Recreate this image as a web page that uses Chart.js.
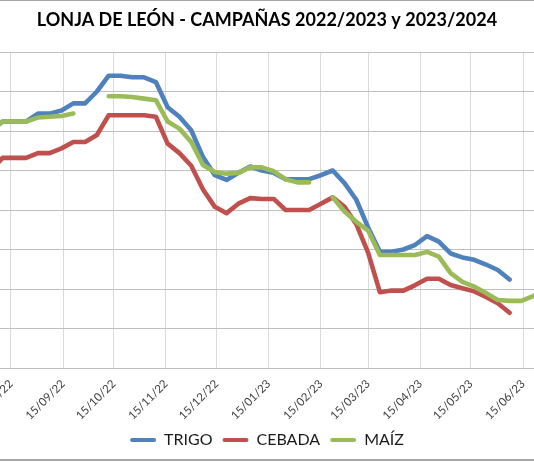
<!DOCTYPE html>
<html><head><meta charset="utf-8">
<script src="https://cdn.jsdelivr.net/npm/chart.js@4.4.0/dist/chart.umd.min.js"></script>
<style>
html,body{margin:0;padding:0;background:#fff;}
#wrap{position:relative;width:534px;height:462px;overflow:hidden;background:#fff;}
#c{position:absolute;left:0;top:0;}
.bt{position:absolute;left:0;width:534px;background:#a6a6a6;}
</style></head><body>
<div id="wrap"><canvas id="c" width="534" height="462"></canvas>
<div class="bt" style="top:0;height:1px"></div>
<div class="bt" style="top:459px;height:2px"></div></div>
<script>
const titleText = 'LONJA DE LEÓN - CAMPAÑAS 2022/2023 y 2023/2024';
const seriesNames = ['TRIGO', 'CEBADA', 'MAÍZ'];
const dates = [
 '2022-08-03','2022-08-10','2022-08-17','2022-08-24','2022-08-31','2022-09-07','2022-09-14','2022-09-21',
 '2022-09-28','2022-10-05','2022-10-12','2022-10-19','2022-10-26','2022-11-02','2022-11-09','2022-11-16',
 '2022-11-23','2022-11-30','2022-12-07','2022-12-14','2022-12-21','2022-12-28','2023-01-04','2023-01-11',
 '2023-01-18','2023-01-25','2023-02-01','2023-02-08','2023-02-15','2023-02-22','2023-03-01','2023-03-08',
 '2023-03-15','2023-03-22','2023-03-29','2023-04-05','2023-04-12','2023-04-19','2023-04-26','2023-05-03',
 '2023-05-10','2023-05-17','2023-05-24','2023-05-31','2023-06-07','2023-06-14','2023-06-21','2023-06-28'
];
const trigo = [310,316,316,316,321,321,323,327.5,327.5,335,345,345,344,344,341,325,319,310.5,293.5,282,
 279,283.5,287.5,285,283.5,279.5,279.5,279.5,282,285,277,266.5,249,233.5,233.5,235,238,243.5,240,232.5,
 230,228.5,225.5,222,216,null,null,null];
const cebada = [285,293,293,293,296,296,299,303,303,307.5,320,320,320,320,319,302,296,288,273,262,
 258,264,267.5,267,267,260,260,260,264,268,262,251,233,208,209,209,212.5,216.5,216.5,212.5,
 210.5,208.5,205,201,195,null,null,null];
const maiz = [310,316,316,316,318.5,319,319.5,321,null,null,332,332,331.5,330.5,329.5,316,311.5,303,288.5,284,
 283,283.5,287,287,284.5,279.5,277.5,277.5,null,268,259,252.5,247,231.5,231.5,231.5,231.5,233.5,230.5,220,
 214.5,211.5,207.5,203,202.5,202.5,205.5,209.5];
const tickDates = ['2022-08-15','2022-09-15','2022-10-15','2022-11-15','2022-12-15','2023-01-15',
 '2023-02-15','2023-03-15','2023-04-15','2023-05-15','2023-06-15'];
const yMin = 160, yMax = 360, yStep = 25;
const colors = ['#4F81BD', '#C0504D', '#9BBB59'];

function dayNum(s){ const p = s.split('-').map(Number); return Date.UTC(p[0], p[1]-1, p[2]) / 86400000; }
function fmt(v){ const d = new Date(Math.round(v) * 86400000);
  const dd = String(d.getUTCDate()).padStart(2,'0'), mm = String(d.getUTCMonth()+1).padStart(2,'0'), yy = String(d.getUTCFullYear()).slice(2);
  return dd + '/' + mm + '/' + yy; }
const x0 = dayNum(tickDates[0]);
const xMin = x0 - 6.53, xMax = x0 + 310.5;
const PLOT_BOTTOM = 368, PAD_BOTTOM = 4;

const series = [trigo, cebada, maiz];
const datasets = series.map((vals, i) => ({
  label: seriesNames[i],
  data: vals.map((v, j) => ({x: dayNum(dates[j]), y: v})),
  borderColor: colors[i], backgroundColor: colors[i],
  borderWidth: 4.6, pointRadius: 0, pointHoverRadius: 0, tension: 0,
  borderCapStyle: 'round', borderJoinStyle: 'round', spanGaps: false,
  order: 3 - i
}));

new Chart(document.getElementById('c'), {
  type: 'line',
  data: { datasets },
  options: {
    responsive: false, animation: false, events: [],
    layout: { padding: { top: 0, left: 0, right: 0, bottom: PAD_BOTTOM } },
    plugins: {
      tooltip: { enabled: false },
      title: { display: true, text: titleText, color: '#000',
        font: { family: 'Lato', size: 18, weight: 'bold' }, padding: { top: 9, bottom: 21.4 } },
      legend: { position: 'bottom',
        labels: { font: { family: 'Lato', size: 16 }, color: '#1a1a1a', boxWidth: 26, boxHeight: 4, padding: 10,
          useBorderRadius: true, borderRadius: 2,
          sort: (a, b) => a.datasetIndex - b.datasetIndex,
          generateLabels: (chart) => Chart.defaults.plugins.legend.labels.generateLabels(chart).map(it => Object.assign(it, {lineWidth: 0})) } }
    },
    scales: {
      x: { type: 'linear', min: xMin, max: xMax,
        grid: { color: '#d9d9d9', lineWidth: 1, drawTicks: false },
        border: { color: '#bfbfbf', width: 1 },
        ticks: { autoSkip: false, maxRotation: 45, minRotation: 45, padding: 9, color: '#404040',
          font: { family: 'Lato', size: 11.5 }, callback: (v) => fmt(v) },
        afterBuildTicks: (s) => { s.ticks = tickDates.map(d => ({value: dayNum(d)})).filter(t => t.value >= xMin && t.value <= xMax); },
        afterFit: (s) => { s.paddingLeft = 0; s.paddingRight = 0;
          const lh = s.chart.legend ? s.chart.legend.height : 46;
          s.height = s.chart.height - PAD_BOTTOM - lh - PLOT_BOTTOM; }
      },
      y: { min: yMin, max: yMax,
        ticks: { display: false, stepSize: yStep },
        grid: { color: '#bfbfbf', lineWidth: 1, drawTicks: false },
        border: { display: false },
        afterFit: (s) => { s.width = 0; }
      }
    }
  }
});
</script>
</body></html>
